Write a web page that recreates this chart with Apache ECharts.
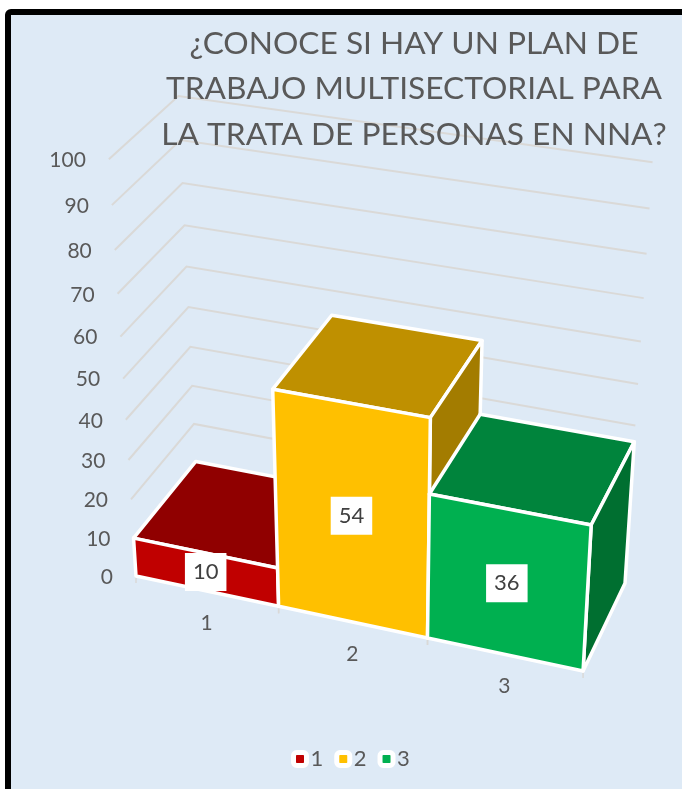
<!DOCTYPE html>
<html>
<head>
<meta charset="utf-8">
<style>html,body{margin:0;padding:0;background:#fff}#c{width:682px;height:789px}</style>
<script src="https://cdn.jsdelivr.net/npm/echarts@6/dist/echarts.min.js"></script>
</head>
<body>
<div id="c"></div>
<script>
const titleText = '¿CONOCE SI HAY UN PLAN DE\nTRABAJO MULTISECTORIAL PARA\nLA TRATA DE PERSONAS EN NNA?';
const categories = ['1', '2', '3'];
const values = [10, 54, 36];
const valueTicks = [0, 10, 20, 30, 40, 50, 60, 70, 80, 90, 100];
const frontColors = ['#C00000', '#FFC000', '#00B050'];
const topColors = ['#900000', '#BF9000', '#00843C'];
const sideColors = ['#700000', '#A37C00', '#006F30'];

const W = 682, H = 789;
const FONT = 'Lato, "Noto Sans", sans-serif';
const TEXT = '#595959', GRID = '#DAD9D7';

// Perspective of the 3D plot: u = category position, v = value, w = depth (0 front, 1 back)
function project(u, v, w) {
  const d = 1 - 0.021 * u - 0.001 * v + 0.052 * w;
  return [
    (135 + 136.8 * u - 0.379 * v + 71.76 * w) / d + 1,
    (575 + 17.6 * u - 4.325 * v - 52 * w) / d + 1
  ];
}
// Take a point through the (hidden) cartesian axes, then into perspective
function pt(api, x, y, w) {
  const c = api.coord([x, y]);
  return project(3 * c[0] / W, 100 * (H - c[1]) / H, w);
}
function face(points, fill) {
  return { type: 'polygon', shape: { points }, style: { fill, stroke: '#fff', lineWidth: 3.5, lineJoin: 'round' } };
}

function renderBar(params, api) {
  const i = api.value(0), v = api.value(1);
  const a = pt(api, i, v, 0), b = pt(api, i + 1, v, 0), c = pt(api, i + 1, 0, 0), d = pt(api, i, 0, 0);
  const e = pt(api, i, v, 1), f = pt(api, i + 1, v, 1), g = pt(api, i + 1, 0, 1);
  const mid = pt(api, i + 0.5, v / 2, 0);
  return {
    type: 'group',
    children: [
      face([e, f, b, a], topColors[i]),
      face([b, f, g, c], sideColors[i]),
      face([a, b, c, d], frontColors[i]),
      {
        type: 'text', z2: 50,
        x: mid[0], y: mid[1],
        style: {
          text: String(v), font: '22px ' + FONT, fill: '#404040',
          align: 'center', verticalAlign: 'middle',
          backgroundColor: '#fff', padding: [9, 8], lineHeight: 20
        }
      }
    ]
  };
}

function renderWall(params, api) {
  const v = api.value(0);
  const a = pt(api, 0, v, 0), b = pt(api, 0, v, 1), c = pt(api, 3, v, 1);
  return {
    type: 'group',
    children: [
      { type: 'polyline', shape: { points: [a, b, c] }, style: { fill: 'none', stroke: GRID, lineWidth: 2 } },
      {
        type: 'text', x: a[0] - 23, y: a[1] + 1,
        style: { text: String(v), font: '21px ' + FONT, fill: TEXT, align: 'right', verticalAlign: 'middle' }
      }
    ]
  };
}

function renderXAxis(params, api) {
  const i = api.value(0);
  const l = pt(api, i + 0.5, 0, 0);
  const children = [{
    type: 'text', x: l[0], y: l[1] + 32,
    style: { text: categories[i], font: '21px ' + FONT, fill: TEXT, align: 'center', verticalAlign: 'middle' }
  }];
  for (const t of [i, i + 1]) {
    const p = pt(api, t, 0, 0);
    children.push({ type: 'line', shape: { x1: p[0], y1: p[1], x2: p[0], y2: p[1] + 7 }, style: { stroke: GRID, lineWidth: 1.5 } });
  }
  return { type: 'group', children };
}

const barSeries = categories.map((name, i) => ({
  type: 'custom', name, z: 3, silent: true,
  coordinateSystem: 'cartesian2d',
  encode: { x: 0, y: 1 },
  itemStyle: { color: frontColors[i] },
  renderItem: renderBar,
  data: [[i, values[i]]]
}));

const chart = echarts.init(document.getElementById('c'), null, { renderer: 'canvas', width: W, height: H });
chart.setOption({
  animation: false,
  backgroundColor: '#fff',
  graphic: { elements: [{
    type: 'rect', z: -100, silent: true,
    shape: { x: 8, y: 12, width: W + 40, height: H + 40, r: 3 },
    style: { fill: '#DEEAF6', stroke: '#000', lineWidth: 6 }
  }] },
  title: {
    text: titleText, left: 409, top: 16, textAlign: 'center',
    textStyle: { fontFamily: FONT, fontSize: 31.7, fontWeight: 'normal', color: TEXT, lineHeight: 45.5 }
  },
  grid: { left: 0, right: 0, top: 0, bottom: 0, containLabel: false },
  xAxis: { type: 'value', min: 0, max: 3, show: false },
  yAxis: { type: 'value', min: 0, max: 100, show: false },
  legend: {
    data: categories.map((name, i) => ({ name, icon: 'roundRect', itemStyle: { color: frontColors[i], borderColor: '#fff', borderWidth: 5 } })),
    left: 286, top: 743, itemWidth: 13, itemHeight: 13, itemGap: 11,
    selectedMode: false,
    textStyle: { fontFamily: FONT, fontSize: 22, color: TEXT, padding: [0, 0, 0, -1] }
  },
  series: [
    {
      type: 'custom', name: 'grid', z: 1, silent: true, coordinateSystem: 'cartesian2d',
      renderItem: renderWall, encode: { y: 0 },
      data: valueTicks.map(v => [v])
    },
    {
      type: 'custom', name: 'axis', z: 1, silent: true, coordinateSystem: 'cartesian2d',
      renderItem: renderXAxis, encode: { x: 0 },
      data: categories.map((c, i) => [i])
    },
    ...barSeries
  ]
});
</script>
</body>
</html>
